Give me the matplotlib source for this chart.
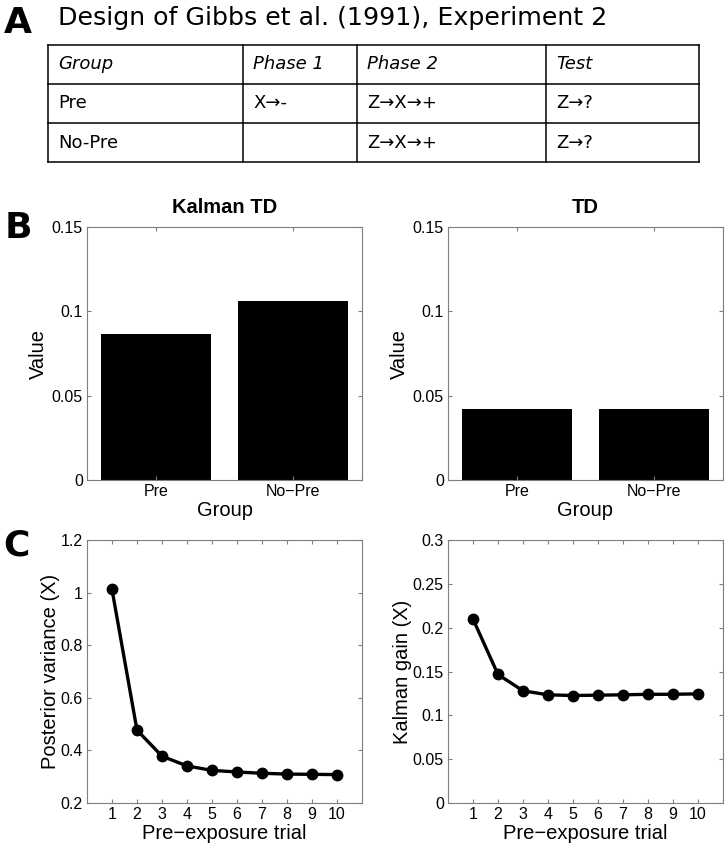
import matplotlib
matplotlib.use("Agg")
import matplotlib.pyplot as plt

# Data
groups = ["Pre", "No\u2212Pre"]
kalman_td_values = [0.0864, 0.1064]
td_values = [0.0422, 0.0422]

trials = [1, 2, 3, 4, 5, 6, 7, 8, 9, 10]
posterior_variance = [1.012, 0.477, 0.378, 0.341, 0.324, 0.318, 0.313, 0.310, 0.309, 0.308]
kalman_gain = [0.2098, 0.1466, 0.128, 0.1234, 0.1226, 0.123, 0.1234, 0.124, 0.124, 0.1245]

table_header = ["Group", "Phase 1", "Phase 2", "Test"]
table_rows = [
    ["Pre", "X\u2192-", "Z\u2192X\u2192+", "Z\u2192?"],
    ["No-Pre", "", "Z\u2192X\u2192+", "Z\u2192?"],
]

W, H = 726, 846
plt.rcParams["font.family"] = ["Liberation Sans", "DejaVu Sans"]
fig = plt.figure(figsize=(W / 100, H / 100), dpi=100)


def px_axes(left, top, right, bottom):
    return fig.add_axes([left / W, 1 - bottom / H, (right - left) / W, (bottom - top) / H])


def matlab_style(ax):
    for s in ax.spines.values():
        s.set_color("#7f7f7f")
        s.set_linewidth(0.8)
    ax.tick_params(direction="in", top=True, right=True, length=3,
                   color="#7f7f7f", labelsize=11.5, labelcolor="black", pad=3)


# Panel A: table
fig.text(4 / W, 1 - 33 / H, "A", fontsize=26, fontweight="bold", family="DejaVu Sans", va="baseline")
fig.text(58 / W, 1 - 25 / H, "Design of Gibbs et al. (1991), Experiment 2",
         fontsize=18.2, family="DejaVu Sans", va="baseline")

col_edges = [0, 195, 309, 498, 651]
row_h = 39
tab = px_axes(48, 45, 699, 162)
tab.set_xlim(0, col_edges[-1])
tab.set_ylim(row_h * 3, 0)
tab.axis("off")
all_rows = [table_header] + table_rows
for r in range(len(all_rows) + 1):
    tab.plot([0, col_edges[-1]], [r * row_h, r * row_h], color="black", lw=1.1, clip_on=False)
for c in col_edges:
    tab.plot([c, c], [0, row_h * len(all_rows)], color="black", lw=1.1, clip_on=False)
for r, row in enumerate(all_rows):
    for c, txt in enumerate(row):
        tab.text(col_edges[c] + 10, r * row_h + row_h / 2, txt, fontsize=13,
                 family="DejaVu Sans", style="italic" if r == 0 else "normal",
                 va="center", ha="left")

# Panel B: bars
fig.text(5 / W, 1 - 238 / H, "B", fontsize=26, fontweight="bold", family="DejaVu Sans", va="baseline")
for (left, right), vals, title in [((87, 362), kalman_td_values, "Kalman TD"),
                                   ((448, 723), td_values, "TD")]:
    ax = px_axes(left, 227, right, 480)
    ax.bar([1, 2], vals, width=0.8, color="black")
    ax.set_xlim(0.5, 2.5)
    ax.set_ylim(0, 0.15)
    ax.set_xticks([1, 2])
    ax.set_xticklabels(groups)
    ax.set_yticks([0, 0.05, 0.1, 0.15])
    ax.set_yticklabels(["0", "0.05", "0.1", "0.15"])
    ax.set_xlabel("Group", fontsize=14.5, labelpad=1)
    ax.set_ylabel("Value", fontsize=14.5, labelpad=2.5)
    ax.set_title(title, fontsize=14.5, fontweight="bold", pad=10)
    matlab_style(ax)

# Panel C: lines
fig.text(3 / W, 1 - 555 / H, "C", fontsize=26, fontweight="bold", family="DejaVu Sans", va="baseline")
panels_c = [((87, 362), posterior_variance, "Posterior variance (X)", (0.2, 1.2),
             [0.2, 0.4, 0.6, 0.8, 1.0, 1.2], ["0.2", "0.4", "0.6", "0.8", "1", "1.2"]),
            ((448, 723), kalman_gain, "Kalman gain (X)", (0, 0.3),
             [0, 0.05, 0.1, 0.15, 0.2, 0.25, 0.3], ["0", "0.05", "0.1", "0.15", "0.2", "0.25", "0.3"])]
for (left, right), vals, ylabel, ylim, yt, ytl in panels_c:
    ax = px_axes(left, 540, right, 803)
    ax.plot(trials, vals, color="black", lw=2.4, marker="o", markersize=7.5)
    ax.set_xlim(0, 11)
    ax.set_ylim(*ylim)
    ax.set_xticks(trials)
    ax.set_yticks(yt)
    ax.set_yticklabels(ytl)
    ax.set_xlabel("Pre\u2212exposure trial", fontsize=14.5, labelpad=1)
    ax.set_ylabel(ylabel, fontsize=14.5, labelpad=0.5)
    matlab_style(ax)

fig.savefig("out.png", dpi=100)
